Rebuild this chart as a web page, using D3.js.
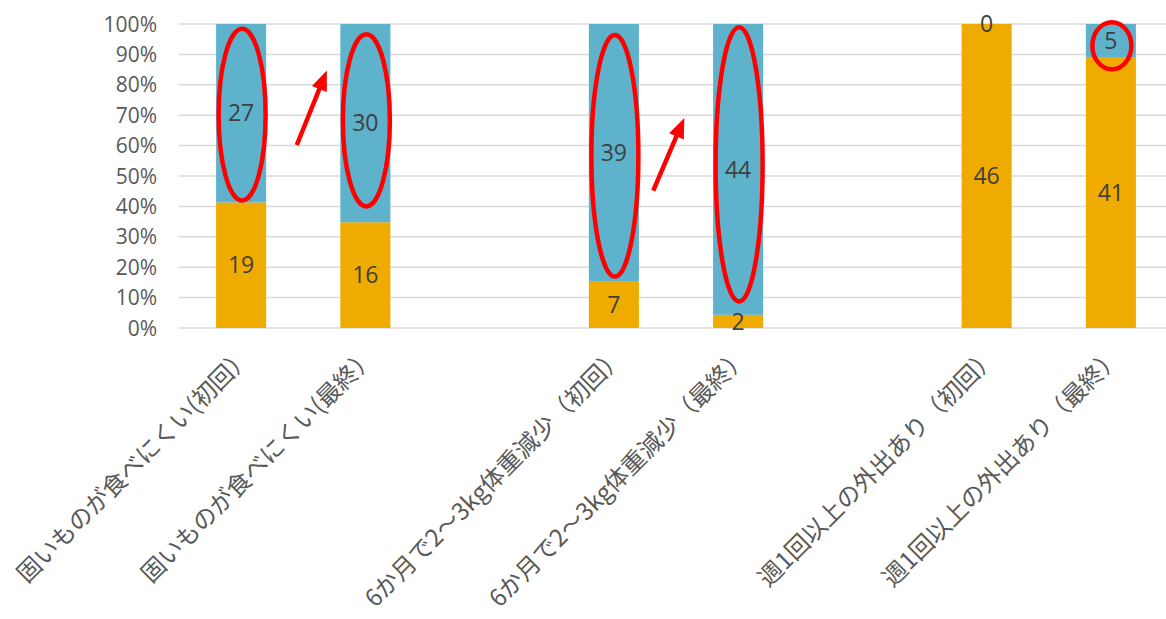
<!DOCTYPE html>
<html>
<head>
<meta charset="utf-8">
<script src="https://cdn.jsdelivr.net/npm/d3@7"></script>
<style>
    body { margin: 0; background: #fff; }
    svg { display: block; }
    .tick-label { font-family: "Open Sans", "Noto Sans", sans-serif; font-size: 21px; fill: #595959; }
    .data-label { font-family: "Open Sans", "Noto Sans", sans-serif; font-size: 23px; fill: #404040; }
    .cat-label { font-family: "Noto Sans CJK JP", sans-serif; font-size: 24px; fill: #595959; }
</style>
</head>
<body>
<div id="chart"></div>
<script>

// categories (empty strings are the blank gap slots)
const categories = [
    "固いものが食べにくい(初回）",
    "固いものが食べにくい(最終）",
    "",
    "6か月で2～3kg体重減少（初回）",
    "6か月で2～3kg体重減少（最終）",
    "",
    "週1回以上の外出あり（初回）",
    "週1回以上の外出あり（最終）"
];

// counts, lower (orange) and upper (blue) part of each bar
const lowerCounts = [19, 16, null, 7, 2, null, 46, 41];
const upperCounts = [27, 30, null, 39, 44, null, 0, 5];

const yTicks = [0, 0.1, 0.2, 0.3, 0.4, 0.5, 0.6, 0.7, 0.8, 0.9, 1];

// red annotation ellipses: slot index, top / bottom share
const ellipseSlots = [0, 1, 3, 4, 7];
const ellipseTops = [0.984, 0.966, 0.964, 0.989, 1.006];
const ellipseBottoms = [0.419, 0.400, 0.169, 0.087, 0.851];

// red arrows: from slot, offset toward next slot (tail, tip), share (tail, tip)
const arrowSlots = [0, 3];
const arrowTailOffsets = [0.448, 0.317];
const arrowTipOffsets = [0.690, 0.567];
const arrowTailShares = [0.602, 0.452];
const arrowTipShares = [0.847, 0.691];

const colors = {lower: "#F0AB00", upper: "#5EB2CB", grid: "#D9D9D9", red: "#FF0000"};

const width = 1166, height = 619;
const margin = {top: 24, left: 179, right: -7, bottom: 291};

const svg = d3.select("#chart").append("svg")
    .attr("width", width)
    .attr("height", height);

const slots = d3.range(categories.length);

const x = d3.scaleBand()
    .domain(slots)
    .range([margin.left, width - margin.right])
    .paddingInner(0.597)
    .paddingOuter(0.2985);

const y = d3.scaleLinear()
    .domain([0, 1])
    .range([height - margin.bottom, margin.top]);

// gridlines
svg.append("g")
    .selectAll("line")
    .data(yTicks)
    .enter()
    .append("line")
    .attr("x1", margin.left)
    .attr("x2", width)
    .attr("y1", d => y(d))
    .attr("y2", d => y(d))
    .attr("stroke", colors.grid)
    .attr("stroke-width", 1.5);

// y labels
const fmt = d3.format(".0%");
svg.append("g")
    .selectAll("text")
    .data(yTicks)
    .enter()
    .append("text")
    .attr("class", "tick-label")
    .attr("x", 157)
    .attr("y", d => y(d))
    .attr("dy", "0.36em")
    .attr("text-anchor", "end")
    .text(d => fmt(d));

// stacked data
let bars = [];
slots.forEach(i => {
    if (lowerCounts[i] == null) return;
    let total = lowerCounts[i] + upperCounts[i];
    let lo = lowerCounts[i] / total;
    bars.push({slot: i, part: "lower", y0: 0, y1: lo, value: lowerCounts[i]});
    bars.push({slot: i, part: "upper", y0: lo, y1: 1, value: upperCounts[i]});
});

svg.append("g")
    .selectAll("rect")
    .data(bars)
    .enter()
    .append("rect")
    .attr("x", d => x(d.slot))
    .attr("width", x.bandwidth())
    .attr("y", d => y(d.y1))
    .attr("height", d => y(d.y0) - y(d.y1))
    .attr("fill", d => colors[d.part]);

svg.append("g")
    .selectAll("text")
    .data(bars)
    .enter()
    .append("text")
    .attr("class", "data-label")
    .attr("x", d => x(d.slot) + x.bandwidth() / 2)
    .attr("y", d => y((d.y0 + d.y1) / 2))
    .attr("dy", "0.36em")
    .attr("text-anchor", "middle")
    .text(d => d.value);

// category labels, rotated
svg.append("g")
    .selectAll("text")
    .data(slots.filter(i => categories[i] !== ""))
    .enter()
    .append("text")
    .attr("class", "cat-label")
    .attr("text-anchor", "end")
    .attr("dy", "0.35em")
    .attr("transform", i => `translate(${x(i) + x.bandwidth() / 2 + 6}, ${y(0) + 24}) rotate(-45)`)
    .text(i => categories[i]);

// annotations
let ann = svg.append("g");

ellipseSlots.forEach((s, k) => {
    let top = y(ellipseTops[k]), bottom = y(ellipseBottoms[k]);
    let small = (bottom - top) < 80;
    ann.append("ellipse")
        .attr("cx", x(s) + x.bandwidth() / 2 + 1)
        .attr("cy", (top + bottom) / 2)
        .attr("rx", small ? 19.5 : 23.5)
        .attr("ry", (bottom - top) / 2)
        .attr("fill", "none")
        .attr("stroke", colors.red)
        .attr("stroke-width", 4.5);
});

arrowSlots.forEach((s, k) => {
    let cx = x(s) + x.bandwidth() / 2;
    let x1 = cx + arrowTailOffsets[k] * x.step(), y1 = y(arrowTailShares[k]);
    let x2 = cx + arrowTipOffsets[k] * x.step(), y2 = y(arrowTipShares[k]);
    let ang = Math.atan2(y2 - y1, x2 - x1);
    let headLen = 20, headW = 8;
    let bx = x2 - headLen * Math.cos(ang), by = y2 - headLen * Math.sin(ang);
    ann.append("line")
        .attr("x1", x1).attr("y1", y1)
        .attr("x2", bx + 2 * Math.cos(ang)).attr("y2", by + 2 * Math.sin(ang))
        .attr("stroke", colors.red)
        .attr("stroke-width", 4.5);
    let px = -Math.sin(ang), py = Math.cos(ang);
    ann.append("path")
        .attr("d", `M${x2},${y2} L${bx + px * headW},${by + py * headW} L${bx - px * headW},${by - py * headW} Z`)
        .attr("fill", colors.red);
});

</script>
</body>
</html>
